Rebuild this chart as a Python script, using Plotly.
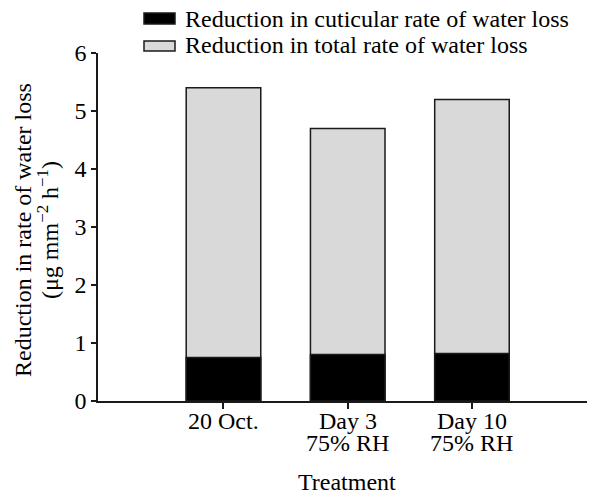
import plotly.graph_objects as go

tick_line1 = ["20 Oct.", "Day 3", "Day 10"]
tick_line2 = ["", "75% RH", "75% RH"]
total_loss = [5.4, 4.7, 5.2]
cuticular_loss = [0.75, 0.80, 0.82]
series_names = ["Reduction in cuticular rate of water loss", "Reduction in total rate of water loss"]
y_ticks = [0, 1, 2, 3, 4, 5, 6]
y_title = ["Reduction in rate of water loss", "(μg mm<sup>−2</sup> h<sup>−1</sup>)"]
x_title = "Treatment"

FONT = "Liberation Serif"
FS = 24
pos = list(range(len(tick_line1)))

# the page body has an 8px margin; work in page pixels and shift
OFF = 8
FW, FH = 595 - OFF, 492 - OFF
L, T, R, B = 98, 53, 590, 401          # plot area in page pixels
W, H = R - L, B - T
def px(x): return (x - L) / W
def py(y): return (B - y) / H
txt = dict(family=FONT, size=FS, color="black")

fig = go.Figure()
fig.add_bar(x=pos, y=total_loss, width=0.6, name=series_names[1],
            marker=dict(color="#d9d9d9", line=dict(color="#1a1a1a", width=1.5)), showlegend=False)
fig.add_bar(x=pos, y=cuticular_loss, width=0.6, name=series_names[0],
            marker=dict(color="black", line=dict(color="#1a1a1a", width=1.5)), showlegend=False)

# custom legend (wide swatches)
for (y0, y1), fill in zip([(13, 24), (41, 51)], ["black", "#d9d9d9"]):
    fig.add_shape(type="rect", xref="paper", yref="paper", x0=px(144), x1=px(175), y0=py(y1), y1=py(y0),
                  fillcolor=fill, line=dict(color="#1a1a1a", width=1.5))
for name, yc in zip(series_names, [19, 45]):
    fig.add_annotation(xref="paper", yref="paper", x=px(183), y=py(yc), text=name, showarrow=False,
                       xanchor="left", yanchor="middle", font=txt)

# category labels (two lines, tight leading as in the reference)
for p, t1, t2 in zip(pos, tick_line1, tick_line2):
    fig.add_annotation(xref="x", yref="paper", x=p, y=py(421), text=t1, showarrow=False,
                       yanchor="middle", font=txt)
    if t2:
        fig.add_annotation(xref="x", yref="paper", x=p, y=py(443), text=t2, showarrow=False,
                           yanchor="middle", font=txt)
# axis titles
fig.add_annotation(xref="paper", yref="paper", x=px(347), y=py(482), text=x_title, showarrow=False,
                   yanchor="middle", font=txt)
for t, xc in zip(y_title, [23, 48]):
    fig.add_annotation(xref="paper", yref="paper", x=px(xc), y=py(230), text=t, showarrow=False,
                       textangle=-90, xanchor="center", yanchor="middle", font=txt)

fig.update_layout(
    barmode="overlay", width=FW, height=FH,
    margin=dict(l=L - OFF, r=FW - (R - OFF), t=T - OFF, b=FH - (B - OFF), autoexpand=False),
    paper_bgcolor="white", plot_bgcolor="white",
    font=txt,
    xaxis=dict(range=[-1.01, 2.95], tickvals=pos, showticklabels=False, ticks="outside", ticklen=6,
               tickwidth=1.5, tickcolor="#1a1a1a", showline=True, linecolor="#1a1a1a", linewidth=1.5,
               showgrid=False, zeroline=False, automargin=False),
    yaxis=dict(range=[0, 6], tickvals=y_ticks, ticks="outside", ticklen=5, tickwidth=1.5, tickcolor="#1a1a1a",
               showline=True, linecolor="#1a1a1a", linewidth=1.5, showgrid=False, zeroline=False,
               automargin=False),
)
fig.write_html("out.html")
